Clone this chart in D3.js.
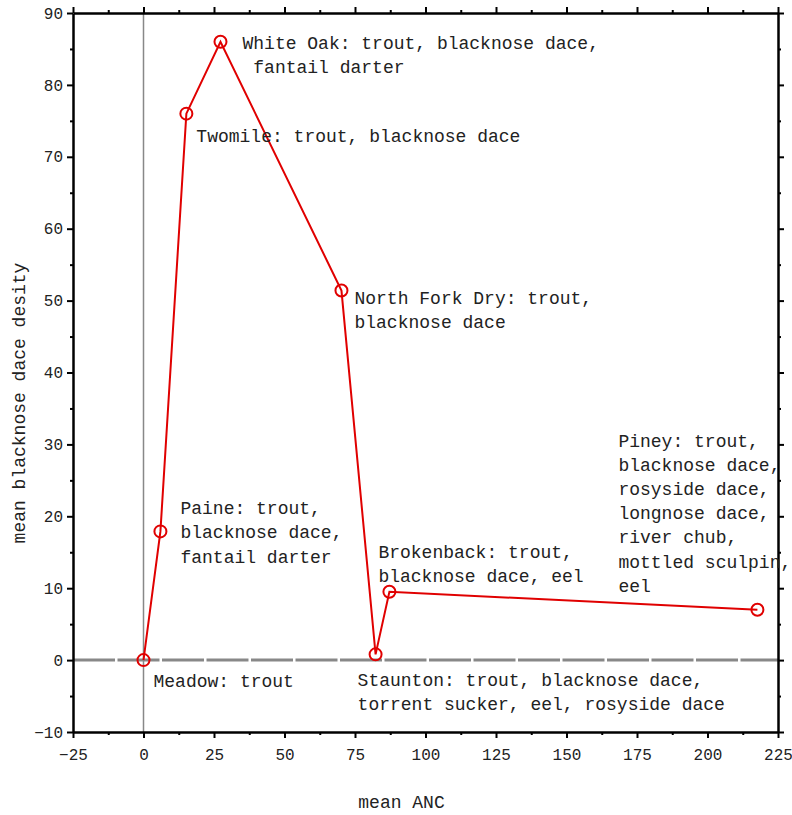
<!DOCTYPE html>
<html>
<head>
<meta charset="utf-8">
<script src="https://cdn.jsdelivr.net/npm/d3@7"></script>
<style>
  body { margin: 0; background: #fff; }
  text { font-family: "Liberation Mono", "DejaVu Sans Mono", monospace; fill: #222; }
  .axis path, .axis line { stroke: #000; }
</style>
</head>
<body>
<div id="chart"></div>
<script>
// streams, in the order the line joins them
var streams = ["Meadow", "Paine", "Twomile", "White Oak", "North Fork Dry", "Staunton", "Brokenback", "Piney"];
var anc = [0, 6, 15.2, 27.3, 70.2, 82.3, 87.2, 217.7];
var daceDensity = [0, 17.9, 76, 86, 51.4, 0.8, 9.5, 7.0];
var labelLines = [
    ["Meadow: trout"],
    ["Paine: trout,", "blacknose dace,", "fantail darter"],
    ["Twomile: trout, blacknose dace"],
    ["White Oak: trout, blacknose dace,", " fantail darter"],
    ["North Fork Dry: trout,", "blacknose dace"],
    ["Staunton: trout, blacknose dace,", "torrent sucker, eel, rosyside dace"],
    ["Brokenback: trout,", "blacknose dace, eel"],
    ["Piney: trout,", "blacknose dace,", "rosyside dace,", "longnose dace,", "river chub,", "mottled sculpin,", "eel"]
];
var xTicks = [-25, 0, 25, 50, 75, 100, 125, 150, 175, 200, 225];
var yTicks = [-10, 0, 10, 20, 30, 40, 50, 60, 70, 80, 90];

// label offsets from each point, in pixels
var labelOffset = [[10, 21], [20, -23], [10, 23], [22, 1], [13, 8], [-18, 26], [-11, -40], [-139, -169]];

var margin = { top: 13, right: 14, bottom: 83, left: 73 },
    width = 792 - margin.left - margin.right,
    height = 815 - margin.top - margin.bottom;

var svg = d3.select("#chart")
    .append("svg")
    .attr("width", 792)
    .attr("height", 815)
    .append("g")
    .attr("transform", "translate(" + margin.left + "," + margin.top + ")");

var x = d3.scaleLinear().domain([-25, 225]).range([0, width]);
var y = d3.scaleLinear().domain([-10, 90]).range([height, 0]);

var xMinor = d3.range(-12.5, 225, 25);
var yMinor = d3.range(-5, 90, 10);

// zero lines
svg.append("line")
    .attr("x1", 0).attr("x2", width)
    .attr("y1", y(0)).attr("y2", y(0))
    .attr("stroke", "#888").attr("stroke-width", 3)
    .attr("stroke-dasharray", "42,2.5");
svg.append("line")
    .attr("x1", x(0)).attr("x2", x(0))
    .attr("y1", 0).attr("y2", height)
    .attr("stroke", "#888").attr("stroke-width", 1.5);

function drawAxis(axisFn, scale, ticks, minor, transform, labels) {
    var g = svg.append("g").attr("class", "axis").attr("transform", transform);
    g.call(axisFn(scale).tickValues(ticks).tickSize(6).tickSizeOuter(0)
        .tickFormat(labels ? function (d) { return String(d).replace("-", "\u2212"); } : ""));
    g.select(".domain").attr("stroke-width", 2.5);
    g.selectAll(".tick line").attr("stroke-width", 2);
    g.selectAll("text").style("font-size", "16px").style("font-family", "Liberation Mono, monospace").attr("fill", "#222");
    var m = svg.append("g").attr("class", "axis").attr("transform", transform);
    m.call(axisFn(scale).tickValues(minor).tickSize(3).tickFormat(""));
    m.select(".domain").remove();
    m.selectAll(".tick line").attr("stroke-width", 2);
    return g;
}

var gx = drawAxis(d3.axisBottom, x, xTicks, xMinor, "translate(0," + height + ")", true);
gx.selectAll("text").attr("dy", "1.2em");
drawAxis(d3.axisTop, x, xTicks, xMinor, "translate(0,0)", false);
var gy = drawAxis(d3.axisLeft, y, yTicks, yMinor, "translate(0,0)", true);
gy.selectAll("text").attr("x", -10);
drawAxis(d3.axisRight, y, yTicks, yMinor, "translate(" + width + ",0)", false);

// line
var pts = streams.map(function (s, i) { return { name: s, x: anc[i], y: daceDensity[i], lines: labelLines[i], off: labelOffset[i] }; });

svg.append("path")
    .datum(pts)
    .attr("fill", "none")
    .attr("stroke", "#e00000")
    .attr("stroke-width", 2)
    .attr("d", d3.line()
        .x(function (d) { return x(d.x); })
        .y(function (d) { return y(d.y); }));

svg.selectAll("circle.pt")
    .data(pts)
    .enter()
    .append("circle")
    .attr("class", "pt")
    .attr("cx", function (d) { return x(d.x); })
    .attr("cy", function (d) { return y(d.y); })
    .attr("r", 6)
    .attr("fill", "none")
    .attr("stroke", "#e00000")
    .attr("stroke-width", 2);

// labels
svg.selectAll("text.lbl")
    .data(pts)
    .enter()
    .append("text")
    .attr("class", "lbl")
    .attr("xml:space", "preserve")
    .style("font-size", "18px")
    .style("white-space", "pre")
    .attr("transform", function (d) { return "translate(" + (x(d.x) + d.off[0]) + "," + (y(d.y) + d.off[1]) + ")"; })
    .selectAll("tspan")
    .data(function (d) { return d.lines; })
    .enter()
    .append("tspan")
    .attr("x", 0)
    .attr("y", function (d, i) { return i * 24.2; })
    .attr("dy", "0.32em")
    .text(function (d) { return d; });

// axis titles
svg.append("text")
    .attr("x", width / 2 - 24)
    .attr("y", height + 76)
    .attr("text-anchor", "middle")
    .style("font-size", "18px")
    .text("mean ANC");

svg.append("text")
    .attr("transform", "translate(" + (19 - margin.left) + "," + (403 - margin.top) + ") rotate(-90)")
    .attr("text-anchor", "middle")
    .attr("dy", "0.32em")
    .style("font-size", "18px")
    .text("mean blacknose dace desity");
</script>
</body>
</html>
